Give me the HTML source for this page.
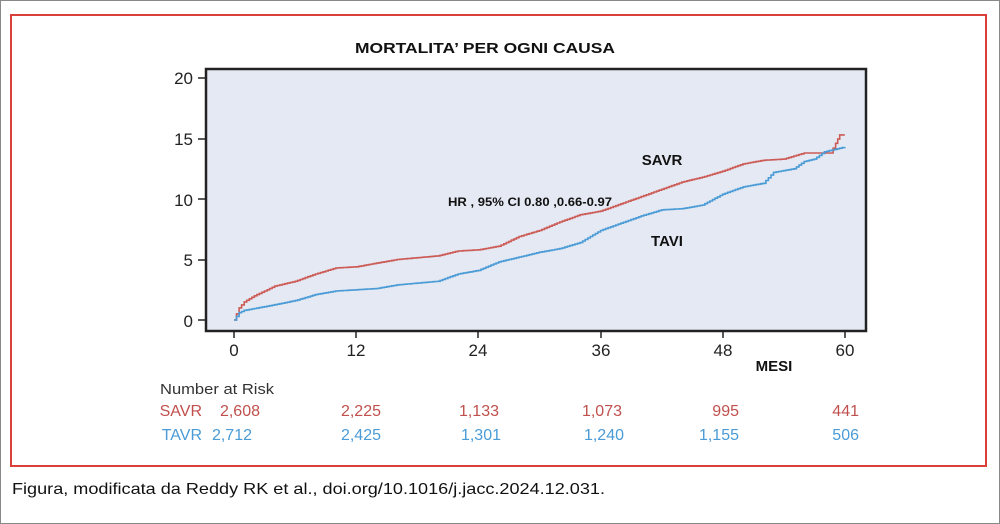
<!DOCTYPE html>
<html><head><meta charset="utf-8"><style>
html,body{margin:0;padding:0;background:#fff}
svg{display:block}
text{font-family:"Liberation Sans",sans-serif}
</style></head><body>
<svg id="s" width="1000" height="524" viewBox="0 0 1000 524" xmlns="http://www.w3.org/2000/svg">
<rect x="0.5" y="0.5" width="999" height="523" fill="#fff" stroke="#888" stroke-width="1"/>
<rect x="11" y="15" width="975" height="451" fill="none" stroke="#d9403a" stroke-width="2"/>
<text x="485" y="53" text-anchor="middle" font-size="15" font-weight="bold" fill="#111" textLength="260" lengthAdjust="spacingAndGlyphs">MORTALITA’ PER OGNI CAUSA</text>
<rect x="206" y="69" width="660" height="262" fill="#e4e9f3" stroke="#222" stroke-width="2.5"/>
<g font-size="17" fill="#222" text-anchor="end">
<text x="193" y="84">20</text><text x="193" y="145">15</text><text x="193" y="206">10</text><text x="193" y="266">5</text><text x="193" y="327">0</text>
</g>
<g stroke="#222" stroke-width="1.5">
<line x1="198" y1="78" x2="206" y2="78"/><line x1="198" y1="139" x2="206" y2="139"/><line x1="198" y1="199" x2="206" y2="199"/><line x1="198" y1="260" x2="206" y2="260"/><line x1="198" y1="320" x2="206" y2="320"/>
<line x1="234" y1="331" x2="234" y2="338"/><line x1="356" y1="331" x2="356" y2="338"/><line x1="478" y1="331" x2="478" y2="338"/><line x1="601" y1="331" x2="601" y2="338"/><line x1="723" y1="331" x2="723" y2="338"/><line x1="845" y1="331" x2="845" y2="338"/>
</g>
<g font-size="17" fill="#222" text-anchor="middle">
<text x="234" y="356">0</text><text x="356" y="356">12</text><text x="478" y="356">24</text><text x="601" y="356">36</text><text x="723" y="356">48</text><text x="845" y="356">60</text>
</g>
<text x="774" y="371" text-anchor="middle" font-size="15" font-weight="bold" fill="#111">MESI</text>
<path id="savr" fill="none" stroke="#cc5a55" stroke-width="1.6"/>
<path id="tavi" fill="none" stroke="#4a9bd6" stroke-width="1.6"/>
<text x="448" y="206" font-size="12" font-weight="bold" fill="#111" textLength="164" lengthAdjust="spacingAndGlyphs">HR , 95% CI 0.80 ,0.66-0.97</text>
<text x="662" y="165" text-anchor="middle" font-size="15" font-weight="bold" fill="#111">SAVR</text>
<text x="667" y="246" text-anchor="middle" font-size="15" font-weight="bold" fill="#111">TAVI</text>
<text x="160" y="394" font-size="15" fill="#333" textLength="114" lengthAdjust="spacingAndGlyphs">Number at Risk</text>
<g font-size="16" fill="#c0504d" text-anchor="end">
<text x="202" y="416">SAVR</text><text x="260" y="416">2,608</text><text x="381" y="416">2,225</text><text x="499" y="416">1,133</text><text x="622" y="416">1,073</text><text x="739" y="416">995</text><text x="859" y="416">441</text>
</g>
<g font-size="16" fill="#4a9bd6" text-anchor="end">
<text x="202" y="440">TAVR</text><text x="252" y="440">2,712</text><text x="381" y="440">2,425</text><text x="501" y="440">1,301</text><text x="624" y="440">1,240</text><text x="739" y="440">1,155</text><text x="859" y="440">506</text>
</g>
<text x="12" y="494" font-size="16" fill="#111" textLength="593" lengthAdjust="spacingAndGlyphs">Figura, modificata da Reddy RK et al., doi.org/10.1016/j.jacc.2024.12.031.</text>
</svg>
<script>
function mk(pts){
  var X=function(m){return 234+m*10.18}, Y=function(v){return 320-v*12.1};
  var d="M"+X(0)+","+Y(0);
  for(var i=1;i<pts.length;i++){
    var a=pts[i-1],b=pts[i],n=Math.max(1,Math.round((b[0]-a[0])*4));
    for(var k=1;k<=n;k++){
      var m=a[0]+(b[0]-a[0])*k/n, v=a[1]+(b[1]-a[1])*k/n;
      d+=" H"+X(m).toFixed(1)+" V"+Y(v).toFixed(1);
    }
  }
  return d;
}
var s=[[0,0],[0.5,1],[1,1.5],[2,2],[3,2.4],[4,2.8],[6,3.2],[8,3.8],[10,4.3],[12,4.4],[14,4.7],[16,5],[20,5.3],[22,5.7],[24,5.8],[26,6.1],[28,6.9],[30,7.4],[32,8.1],[34,8.7],[36,9],[38,9.6],[40,10.2],[42,10.8],[44,11.4],[46,11.8],[48,12.3],[50,12.9],[52,13.2],[54,13.3],[56,13.8],[58.6,13.8],[59.1,14.6],[59.5,15.3],[60,15.3]];
var t=[[0,0],[0.5,0.6],[1,0.8],[3,1.1],[6,1.6],[8,2.1],[10,2.4],[14,2.6],[16,2.9],[20,3.2],[22,3.8],[24,4.1],[26,4.8],[28,5.2],[30,5.6],[32,5.9],[34,6.4],[36,7.4],[38,8],[40,8.6],[42,9.1],[44,9.2],[46,9.5],[48,10.4],[50,11],[52,11.3],[53,12.2],[55,12.5],[56,13.1],[57,13.3],[58,13.9],[60,14.3]];
document.getElementById("savr").setAttribute("d",mk(s));
document.getElementById("tavi").setAttribute("d",mk(t));
</script>
</body></html>
